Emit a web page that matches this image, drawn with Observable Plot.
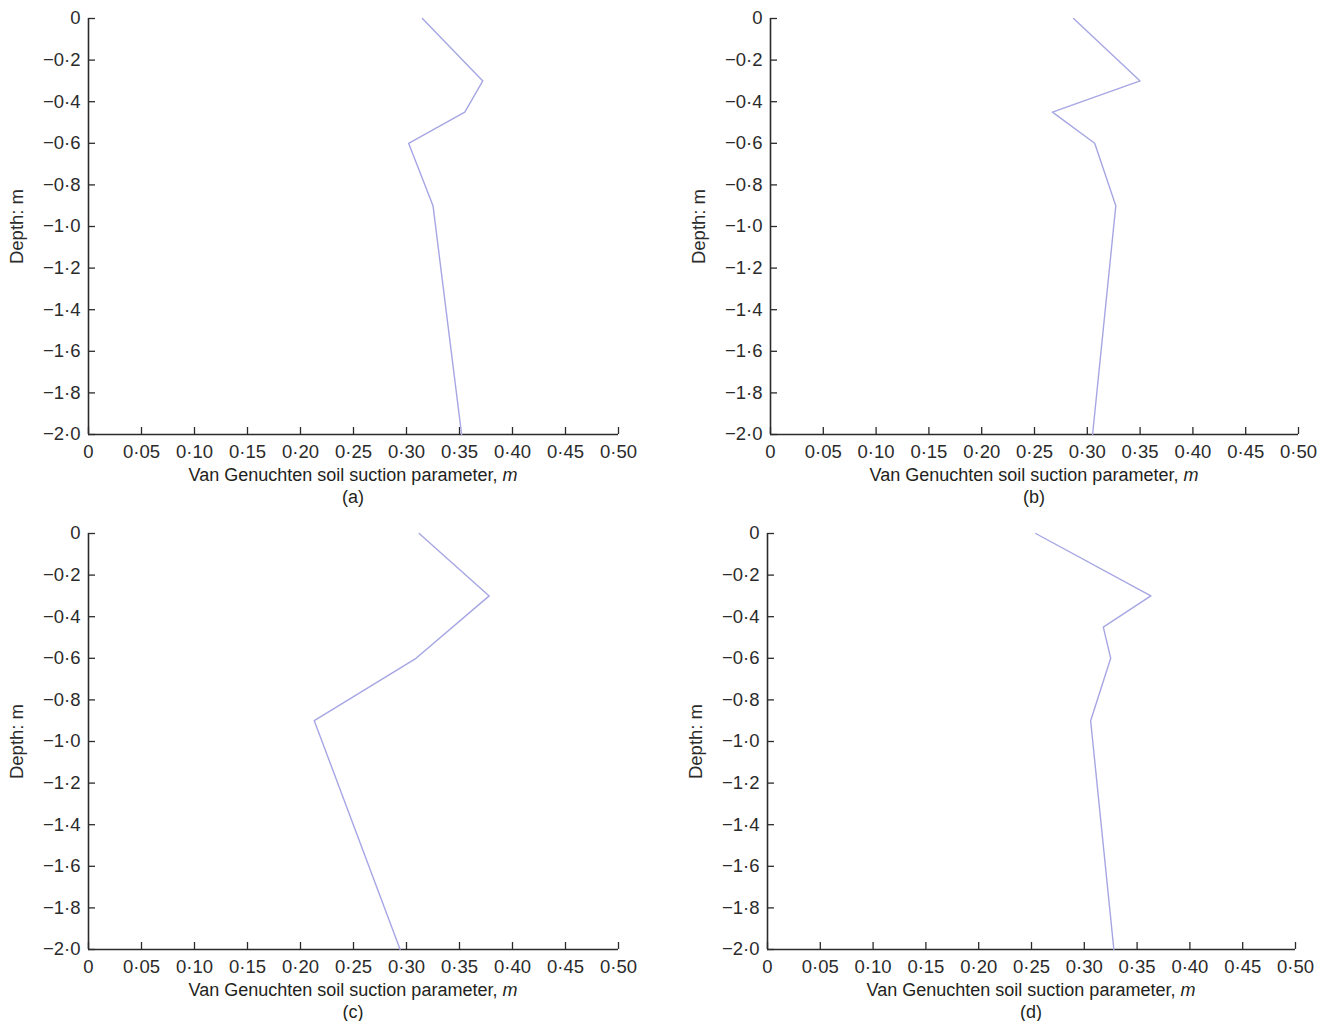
<!DOCTYPE html>
<html><head><meta charset="utf-8">
<script src="https://cdn.jsdelivr.net/npm/d3@7"></script>
<script src="https://cdn.jsdelivr.net/npm/@observablehq/plot@0.6"></script>
<style>
body{margin:0;background:#fff;}
#root{position:relative;width:1330px;height:1021px;font-family:"Liberation Sans",Arial,sans-serif;color:#231f20;overflow:hidden;}
.panel{position:absolute;}
.panel svg{max-width:none !important;}
.cap{position:absolute;font-size:18px;line-height:21px;white-space:nowrap;transform:translateX(-50%);}
</style></head><body><div id="root"></div>
<script>
// Data
const depthA = [0, -0.3, -0.45, -0.6, -0.9, -2.0];
const mA = [0.315, 0.372, 0.355, 0.302, 0.325, 0.352];
const depthB = [0, -0.3, -0.45, -0.6, -0.9, -2.0];
const mB = [0.287, 0.350, 0.267, 0.307, 0.327, 0.305];
const depthC = [0, -0.3, -0.6, -0.9, -2.0];
const mC = [0.312, 0.378, 0.309, 0.213, 0.294];
const depthD = [0, -0.3, -0.45, -0.6, -0.9, -2.0];
const mD = [0.254, 0.363, 0.318, 0.325, 0.306, 0.328];
const xTicks = [0, 0.05, 0.10, 0.15, 0.20, 0.25, 0.30, 0.35, 0.40, 0.45, 0.50];
const yTicks = [0, -0.2, -0.4, -0.6, -0.8, -1.0, -1.2, -1.4, -1.6, -1.8, -2.0];
const xTitle = "Van Genuchten soil suction parameter, ";
const yTitle = "Depth: m";
const letters = ["(a)", "(b)", "(c)", "(d)"];

const fx = d => d === 0 ? "0" : d3.format(".2f")(d).replace(".", "\u00b7");
const fy = d => d === 0 ? "0" : d3.format(".1f")(d).replace(".", "\u00b7");
const axisColor = "#2b2b2b";
const lineColor = "#a6a6e4";

const root = document.getElementById("root");

function panel(ms, depths, axisLeft, axisTop, plotW, plotH, letter) {
  const mL = 88, mR = 42, mT = 18, mB = 32;
  const rows = depths.map((d, i) => ({m: ms[i], depth: d}));
  const W = mL + plotW + mR, H = mT + plotH + mB;
  const chart = Plot.plot({
    width: W,
    height: H,
    marginLeft: mL, marginRight: mR, marginTop: mT, marginBottom: mB,
    x: {domain: [0, 0.5]},
    y: {domain: [-2, 0]},
    style: {fontFamily: '"Liberation Sans", Arial, sans-serif', fontSize: "18.5px", color: axisColor, background: "transparent", overflow: "visible"},
    marks: [
      Plot.axisX(xTicks, {tickSize: -7, tickPadding: 17, tickFormat: fx, label: null, stroke: axisColor, fill: axisColor, strokeWidth: 1.3}),
      Plot.axisY(yTicks, {tickSize: -7, tickPadding: 15, tickFormat: fy, label: yTitle, labelAnchor: "center", labelOffset: 79, labelArrow: "none", stroke: axisColor, fill: axisColor, strokeWidth: 1.3}),
      Plot.ruleX([0], {stroke: axisColor, strokeWidth: 1.6}),
      Plot.ruleY([-2], {stroke: axisColor, strokeWidth: 1.6}),
      Plot.line(rows, {x: "m", y: "depth", stroke: lineColor, strokeWidth: 1.4})
    ]
  });
  const div = document.createElement("div");
  div.className = "panel";
  div.style.left = (axisLeft - mL) + "px";
  div.style.top = (axisTop - mT) + "px";
  div.style.width = W + "px";
  div.style.height = H + "px";
  div.appendChild(chart);
  root.appendChild(div);
  const cx = axisLeft + plotW / 2;
  const t = document.createElement("div");
  t.className = "cap";
  t.style.left = cx + "px";
  t.style.top = (axisTop + plotH + 31) + "px";
  t.innerHTML = xTitle + "<i>m</i>";
  root.appendChild(t);
  const l = document.createElement("div");
  l.className = "cap";
  l.style.left = cx + "px";
  l.style.top = (axisTop + plotH + 53) + "px";
  l.textContent = letter;
  root.appendChild(l);
}

panel(mA, depthA, 88, 18, 530, 416, letters[0]);
panel(mB, depthB, 770, 18, 528, 416, letters[1]);
panel(mC, depthC, 88, 533, 530, 416, letters[2]);
panel(mD, depthD, 767, 533, 528, 416, letters[3]);
</script></body></html>
